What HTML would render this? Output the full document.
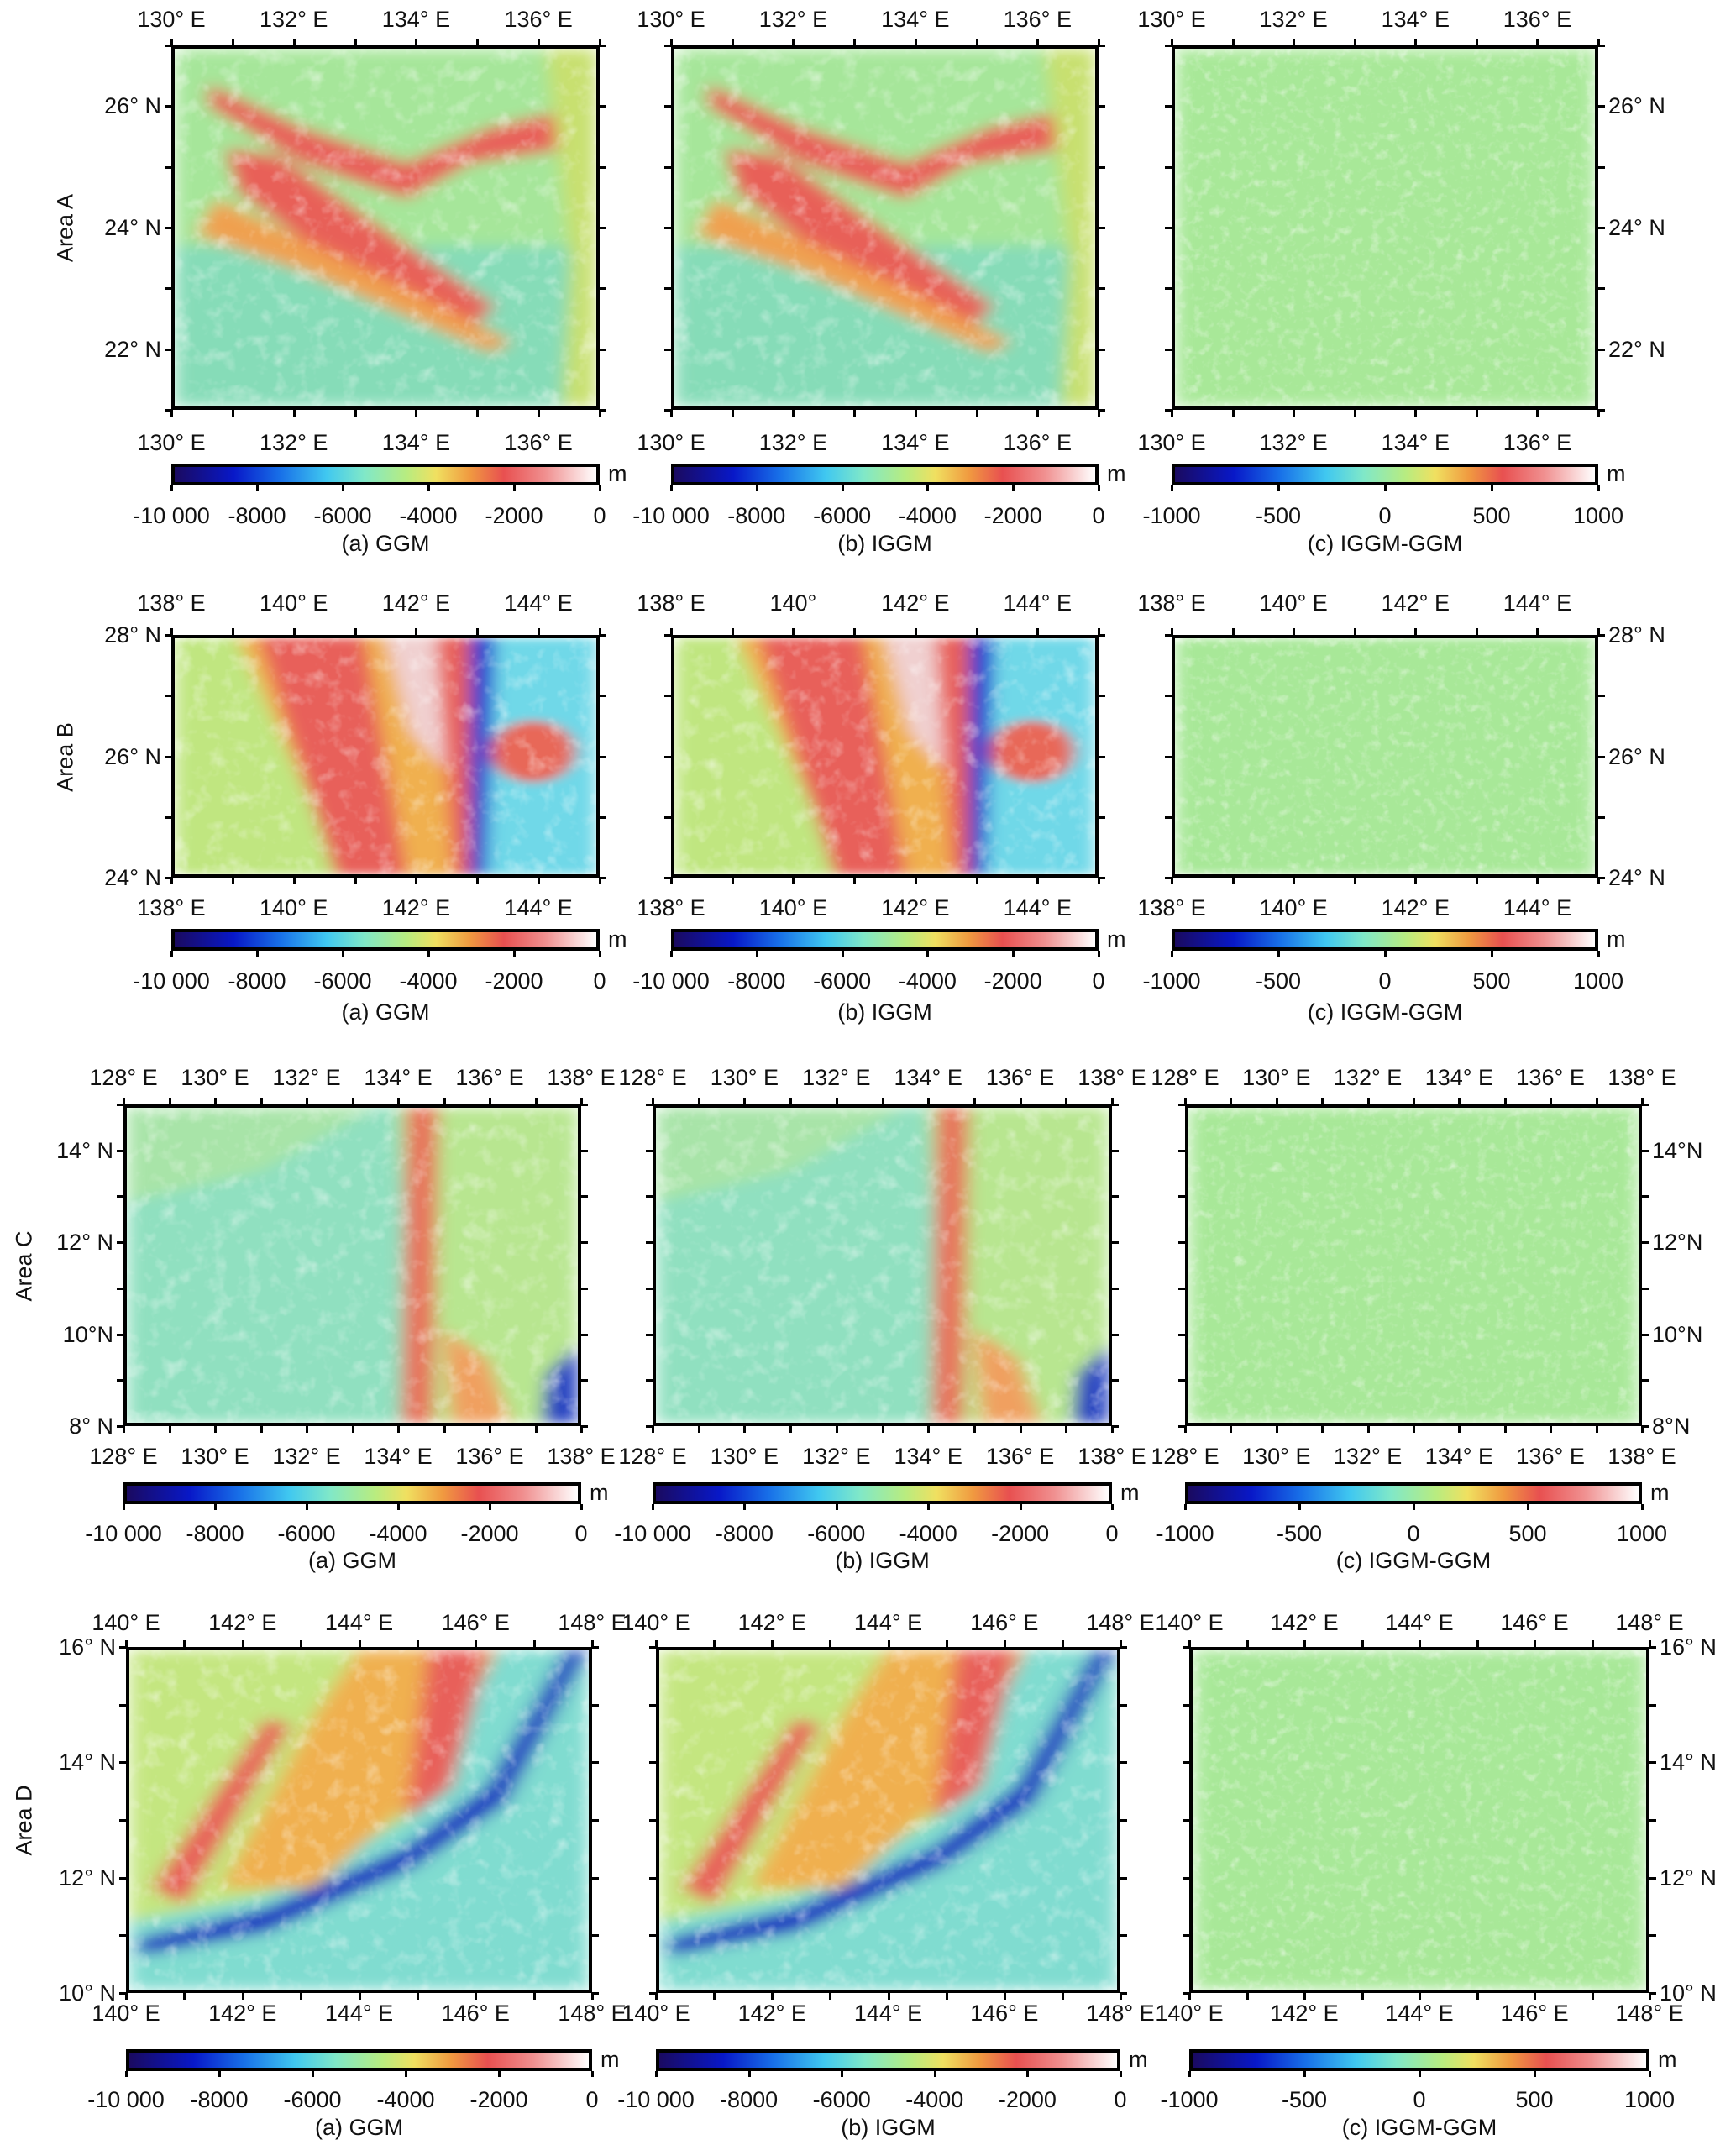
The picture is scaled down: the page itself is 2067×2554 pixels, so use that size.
<!DOCTYPE html>
<html><head><meta charset="utf-8">
<style>
body{margin:0;background:#fff;}
#root{position:relative;width:2067px;height:2554px;overflow:hidden;font-family:"Liberation Sans",sans-serif;color:#111;}
.t{position:absolute;font-size:27px;white-space:nowrap;line-height:1;}
.map{position:absolute;border:4px solid #000;box-sizing:border-box;overflow:hidden;}
.cb{position:absolute;border:4px solid #000;box-sizing:border-box;}
.tk{position:absolute;background:#000;}
</style></head><body>
<div id="root"></div>
<script>
// ---- data ----
const rowNames = ["Area A","Area B","Area C","Area D"];
const lonRanges = [[130,137],[138,145],[128,138],[140,148]];
const latRanges = [[21,27],[24,28],[8,15],[10,16]];
const lonLabels = [[130,132,134,136],[138,140,142,144],[128,130,132,134,136,138],[140,142,144,146,148]];
const latLabels = [[22,24,26],[24,26,28],[8,10,12,14],[10,12,14,16]];
const depthTicks = [-10000,-8000,-6000,-4000,-2000,0];
const depthTickText = ["-10 000","-8000","-6000","-4000","-2000","0"];
const diffTicks = [-1000,-500,0,500,1000];
const diffTickText = ["-1000","-500","0","500","1000"];
const captions = ["(a) GGM","(b) IGGM","(c) IGGM-GGM"];
// ---- layout ----
const rows = [
 {y0:54,y1:488,xs:[[204,714],[799,1308],[1395,1903]],top:23,bot:527,cb:552,lab:614,cap:647,ax:78},
 {y0:756,y1:1045,xs:[[204,714],[799,1308],[1395,1903]],top:718,bot:1081,cb:1106,lab:1168,cap:1205,ax:78},
 {y0:1315,y1:1698,xs:[[147,692],[777,1324],[1411,1955]],top:1283,bot:1734,cb:1765,lab:1826,cap:1858,ax:29},
 {y0:1961,y1:2373,xs:[[150,705],[781,1334],[1416,1964]],top:1932,bot:2397,cb:2440,lab:2500,cap:2533,ax:29}
];
const root=document.getElementById('root');
function txt(s,x,y,anchor,name){const d=document.createElement('div');d.className='t';d.textContent=s;
 
 
 d.style.left=x+'px';d.style.top=(y-13)+'px';
 d.style.transform=anchor==='c'?'translateX(-50%)':anchor==='r'?'translateX(-100%)':'none';root.appendChild(d);return d;}
function tick(x,y,w,h){const d=document.createElement('div');d.className='tk';d.style.left=x+'px';d.style.top=y+'px';d.style.width=w+'px';d.style.height=h+'px';
 
 
 root.appendChild(d);}
const cbGrad="linear-gradient(90deg,#1a0a60 0%,#0818c8 14%,#1870e8 25%,#40c8f0 36%,#80e8c8 45%,#b8ec80 55%,#f0e060 62%,#f09a40 70%,#e85050 78%,#f09090 88%,#fff 100%)";
const maps={
 A:`<rect width="100" height="100" fill="#a6e69a"/><rect y="55" width="100" height="45" fill="#86dcb8"/>
 <path d="M8 10 L30 22 L55 32 L75 22 L90 18 L93 28 L70 32 L55 42 L30 32 L8 16Z" fill="#e8605a"/>
 <path d="M12 28 L25 30 L55 55 L76 72 L70 78 L40 62 L15 40Z" fill="#e86058"/>
 <path d="M10 42 L60 70 L80 82 L75 85 L30 62 L5 52Z" fill="#f0a050"/>
 <path d="M88 0 L100 0 L100 100 L92 100 L94 60Z" fill="#c8e070"/>`,
 B:`<rect width="100" height="100" fill="#c0e680"/><path d="M15 0 L70 0 L75 100 L40 100Z" fill="#f0b050"/>
 <path d="M20 0 L45 0 L55 100 L38 100 Z" fill="#e8605a"/><path d="M50 0 L62 0 L66 60 L56 40Z" fill="#f0d0d0"/>
 <path d="M62 0 L70 0 L74 100 L66 100 Z" fill="#e8605a"/><path d="M70 0 L76 0 L74 100 L70 100Z" fill="#2040d0"/>
 <path d="M76 0 L100 0 L100 100 L74 100Z" fill="#70d8e8"/><ellipse cx="85" cy="48" rx="10" ry="13" fill="#e86858"/>`,
 C:`<rect width="100" height="100" fill="#90e0c0"/><path d="M60 0 L100 0 L100 100 L65 100Z" fill="#b8e690"/><path d="M0 0 L55 0 L30 20 L0 30Z" fill="#a8e4a8"/>
 <path d="M62 0 L69 0 L68 100 L61 100Z" fill="#e8705a"/><path d="M70 70 L80 80 L85 100 L72 100Z" fill="#f0a060"/><path d="M93 85 L100 75 L100 100 L92 100Z" fill="#2040c0"/>`,
 D:`<rect width="100" height="100" fill="#c4e680"/><path d="M0 100 L0 80 L30 72 L60 50 L80 0 L100 0 L100 100Z" fill="#80dcd0"/>
 <path d="M20 70 L40 20 L50 0 L80 0 L65 40 L40 70Z" fill="#f0b050"/><path d="M65 0 L78 0 L70 40 L60 50Z" fill="#e8605a"/>
 <path d="M5 70 L30 20 L35 22 L12 75Z" fill="#e8605a"/>
 <path d="M2 85 L30 76 L60 58 L78 40 L95 0 L100 0 L82 45 L62 64 L30 83 L2 90Z" fill="#1830c0"/>`,
 c:`<rect width="100" height="100" fill="#a8e898"/>`
};
const mapKeys=["A","B","C","D"];
rows.forEach((r,ri)=>{
 const [lo0,lo1]=lonRanges[ri],[la0,la1]=latRanges[ri];
 const ay=(r.y0+r.y1)/2;
 const al=txt(rowNames[ri],r.ax,ay,'c','area-label');al.style.transform='translate(-50%,0) rotate(-90deg)';
 r.xs.forEach((xx,pi)=>{
  const [x0,x1]=xx;
  const X=v=>x0+(v-lo0)/(lo1-lo0)*(x1-x0);
  const Y=v=>r.y1-(v-la0)/(la1-la0)*(r.y1-r.y0);
  const m=document.createElement('div');m.className='map';
  
  
  const w=x1-x0,h=r.y1-r.y0;
  m.style.left=x0+'px';m.style.top=r.y0+'px';m.style.width=w+'px';m.style.height=h+'px';
  m.innerHTML=`<svg width="100%" height="100%" style="position:absolute;left:0;top:0" viewBox="0 0 100 100" preserveAspectRatio="none"><defs><filter id="f${ri}${pi}"><feGaussianBlur stdDeviation="2"/></filter></defs><g filter="url(#f${ri}${pi})">${pi===2?maps.c:maps[mapKeys[ri]]}</g></svg>
  <svg width="${w}" height="${h}" style="position:absolute;left:0;top:0"><defs><filter id="n${ri}${pi}" x="0" y="0" width="100%" height="100%"><feTurbulence type="fractalNoise" baseFrequency="${pi===2?0.09:0.05}" numOctaves="3" seed="${ri*3+pi}"/><feColorMatrix type="matrix" values="0 0 0 0 1  0 0 0 0 1  0 0 0 0 1  1.2 -1.2 0 0 0"/></filter></defs><rect width="100%" height="100%" filter="url(#n${ri}${pi})" opacity="0.55"/></svg>`;
  root.appendChild(m);
  for(let v=lo0;v<=lo1;v++){tick(X(v)-1,r.y0-8,3,8);tick(X(v)-1,r.y1,3,8);}
  for(let v=la0;v<=la1;v++){tick(x0-8,Y(v)-1,8,3);tick(x1,Y(v)-1,8,3);}
  lonLabels[ri].forEach(v=>{
   const s=(ri===1&&pi===1&&v===140)?"140°":v+"° E";
   txt(s,X(v),r.top,'c','top-lon-label');txt(v+"° E",X(v),r.bot,'c','bottom-lon-label');});
  latLabels[ri].forEach(v=>{
   if(pi===0){const s=(ri===2&&v===10)?"10°N":v+"° N";txt(s,x0-12,Y(v),'r','lat-label');}
   if(pi===2){const s=ri===2?v+"°N":v+"° N";txt(s,x1+12,Y(v),'l','lat-label');}
  });
  const cb=document.createElement('div');cb.className='cb';
  
  
  cb.style.left=x0+'px';cb.style.top=r.cb+'px';cb.style.width=(x1-x0)+'px';cb.style.height='26px';cb.style.background=cbGrad;
  root.appendChild(cb);
  txt("m",x1+10,r.cb+12,'l','colorbar-unit');
  const tv=pi===2?diffTicks:depthTicks, tt=pi===2?diffTickText:depthTickText;
  const v0=tv[0],v1=tv[tv.length-1];
  const CX=v=>x0+(v-v0)/(v1-v0)*(x1-x0);
  tv.forEach((v,i)=>{txt(tt[i],CX(v),r.lab,'c','colorbar-tick-label');tick(CX(v)-1,r.cb+26,3,7);});
  txt(captions[pi],(x0+x1)/2,r.cap,'c','panel-caption');
 });
});
</script>
</body></html>
